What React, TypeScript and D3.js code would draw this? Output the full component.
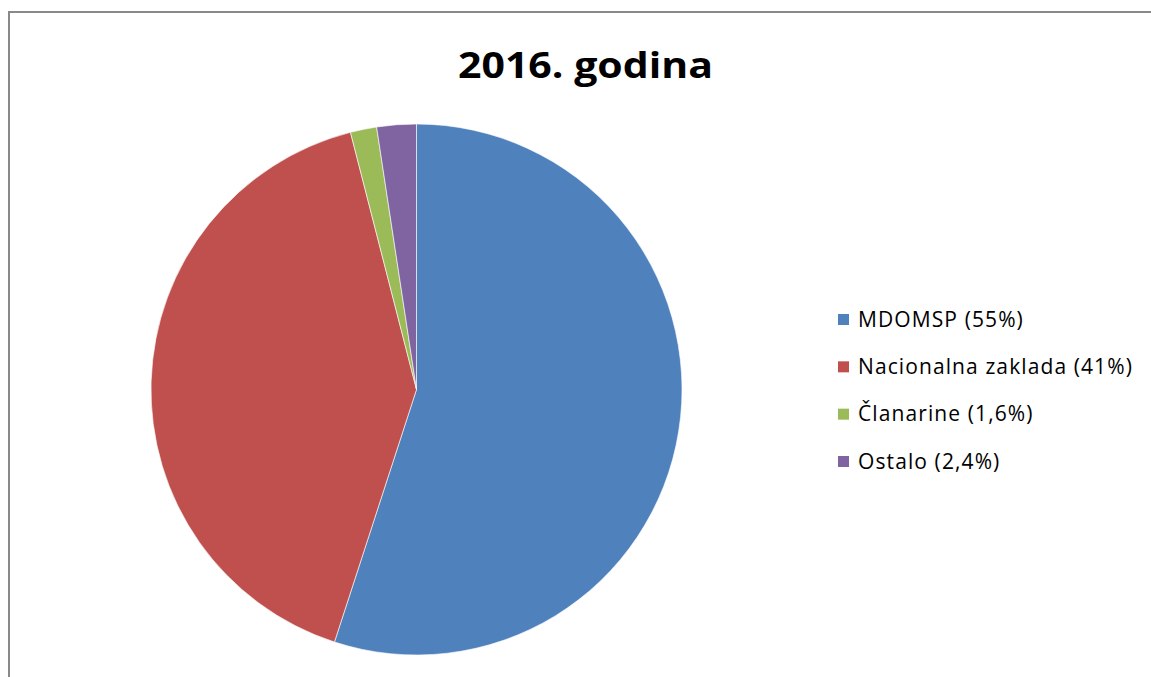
import React from "react";
import * as d3 from "d3";

const categories = ["MDOMSP", "Nacionalna zaklada", "Članarine", "Ostalo"];
const values = [55, 41, 1.6, 2.4];
const labels = ["MDOMSP (55%)", "Nacionalna zaklada (41%)", "Članarine (1,6%)", "Ostalo (2,4%)"];
const colors = ["#4F81BD", "#C0504D", "#9BBB59", "#8064A2"];
const title = "2016. godina";

export default function App() {
  const W = 1151, H = 677;
  const cx = 416.5, cy = 389.5, r = 265.5;
  const pie = d3.pie<number>().sort(null).value((d) => d)(values);
  const arc = d3.arc<d3.PieArcDatum<number>>().innerRadius(0).outerRadius(r);
  const legendY = d3.scalePoint<string>().domain(categories).range([319, 461]);
  return (
    <svg width={W} height={H} style={{ position: "fixed", left: 0, top: 0 }}>
      <rect x={0} y={0} width={W} height={H} fill="#fff" />
      <rect x={9} y={12} width={W + 20} height={H + 20} fill="none" stroke="#898989" strokeWidth={2} />
      <text x={585.5} y={78} textAnchor="middle" fontFamily="'Open Sans', sans-serif" fontWeight="bold" fontSize={36} fill="#000" textLength={255} lengthAdjust="spacingAndGlyphs">{title}</text>
      <g transform={`translate(${cx},${cy})`}>
        {pie.map((p, i) => (
          <path key={categories[i]} d={arc(p) || ""} fill={colors[i]} stroke="#fff" strokeWidth={0.6} />
        ))}
      </g>
      {categories.map((c, i) => (
        <g key={c} transform={`translate(838,${legendY(c)})`}>
          <rect x={0} y={-5} width={11} height={11} fill={colors[i]} />
          <text x={20} y={7.5} fontFamily="'Open Sans', sans-serif" fontSize={21} letterSpacing={1.1} fill="#000">{labels[i]}</text>
        </g>
      ))}
    </svg>
  );
}
